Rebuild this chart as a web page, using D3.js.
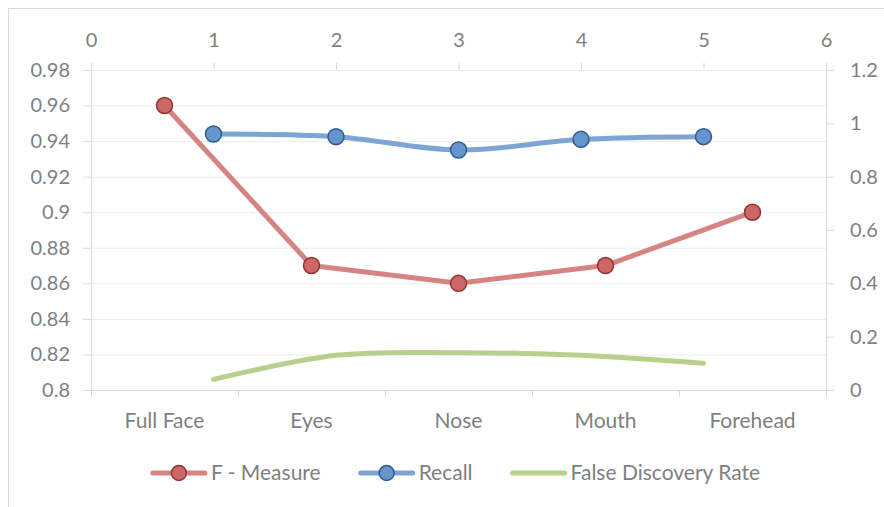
<!DOCTYPE html>
<html lang="en">
  <head>
    <meta charset="utf-8">
    <title>Face regions</title>
    <script src="https://d3js.org/d3.v7.min.js"></script>
    <style>
      body { margin: 0; background: #fff; }
      text { font-family: Lato, "Open Sans", sans-serif; fill: #7f7f7f; }
    </style>
  </head>
  <body>
    <div class="chart"></div>
  </body>
  <script type="text/javascript">
    // data
    const categories = ["Full Face", "Eyes", "Nose", "Mouth", "Forehead"];
    const fMeasure = [0.96, 0.87, 0.86, 0.87, 0.90];
    const recallX = [1, 2, 3, 4, 5];
    const recall = [0.96, 0.95, 0.90, 0.94, 0.95];
    const fdrX = [1, 2, 3, 4, 5];
    const fdr = [0.04, 0.13, 0.14, 0.13, 0.10];
    const leftTicks = [0.8, 0.82, 0.84, 0.86, 0.88, 0.9, 0.92, 0.94, 0.96, 0.98];
    const rightTicks = [0, 0.2, 0.4, 0.6, 0.8, 1, 1.2];
    const topTicks = [0, 1, 2, 3, 4, 5, 6];
    const seriesNames = ["F - Measure", "Recall", "False Discovery Rate"];

    const width = 884, height = 507;
    const plotLeft = 91, plotRight = 826, plotTop = 70, plotBottom = 390;

    const svg = d3.select('.chart')
        .append('svg')
        .attr('width', width)
        .attr('height', height);

    // chart frame
    svg.append('rect')
        .attr('x', 8.5).attr('y', 8.5)
        .attr('width', 900).attr('height', 520)
        .attr('fill', 'none')
        .attr('stroke', '#d9d9d9');

    const xBand = d3.scaleBand().domain(categories).range([plotLeft, plotRight]);
    const xEdge = d3.scaleLinear().domain([0, categories.length]).range([plotLeft, plotRight]);
    const xTop = d3.scaleLinear().domain([0, 6]).range([plotLeft, plotRight]);
    const yLeft = d3.scaleLinear().domain([0.8, 0.98]).range([plotBottom, plotTop]);
    const yRight = d3.scaleLinear().domain([0, 1.2]).range([plotBottom, plotTop]);

    // gridlines
    svg.append('g')
        .attr('class', 'grid')
        .attr('transform', `translate(${plotLeft},0)`)
        .call(d3.axisLeft(yLeft).tickValues(leftTicks).tickSize(-(plotRight - plotLeft)).tickFormat(''))
        .call(g => g.select('.domain').remove())
        .call(g => g.selectAll('line').attr('stroke', '#ececec'));

    // left axis
    svg.append('g')
        .attr('transform', `translate(${plotLeft},0)`)
        .call(d3.axisLeft(yLeft).tickValues(leftTicks).tickSize(8).tickPadding(13)
            .tickFormat(d => +d.toFixed(2)))
        .call(g => g.select('.domain').attr('stroke', '#d9d9d9'))
        .call(g => g.selectAll('line').attr('stroke', '#d9d9d9'))
        .call(g => g.selectAll('text').attr('font-size', 20).attr('fill', '#7f7f7f'));

    // right axis
    svg.append('g')
        .attr('transform', `translate(${plotRight},0)`)
        .call(d3.axisRight(yRight).tickValues(rightTicks).tickSize(8).tickPadding(16)
            .tickFormat(d => +d.toFixed(1)))
        .call(g => g.select('.domain').attr('stroke', '#d9d9d9'))
        .call(g => g.selectAll('line').attr('stroke', '#d9d9d9'))
        .call(g => g.selectAll('text').attr('font-size', 20).attr('fill', '#7f7f7f'));

    // top axis
    svg.append('g')
        .attr('transform', `translate(0,${plotTop})`)
        .call(d3.axisTop(xTop).tickValues(topTicks).tickSize(7).tickPadding(16).tickFormat(d3.format('d')))
        .call(g => g.select('.domain').remove())
        .call(g => g.selectAll('line').attr('stroke', '#d9d9d9'))
        .call(g => g.selectAll('text').attr('font-size', 20).attr('fill', '#7f7f7f'));

    // bottom axis: tick marks between categories, labels at centres
    svg.append('g')
        .attr('transform', `translate(0,${plotBottom})`)
        .call(d3.axisBottom(xEdge).tickValues(d3.range(categories.length + 1)).tickSize(7).tickFormat(''))
        .call(g => g.select('.domain').attr('stroke', '#d9d9d9'))
        .call(g => g.selectAll('line').attr('stroke', '#d9d9d9'));

    svg.append('g')
        .attr('transform', `translate(0,${plotBottom})`)
        .call(d3.axisBottom(xBand).tickSize(0).tickPadding(23))
        .call(g => g.select('.domain').remove())
        .call(g => g.selectAll('text').attr('font-size', 21).attr('fill', '#7f7f7f'));

    svg.selectAll('.tick text').attr('font-family', 'Lato, sans-serif');

    const smooth = d3.curveCatmullRom.alpha(0);

    // F - Measure on primary axes
    const redPts = categories.map((c, i) => [xBand(c) + xBand.bandwidth() / 2, yLeft(fMeasure[i])]);
    svg.append('path')
        .attr('d', d3.line()(redPts))
        .attr('fill', 'none')
        .attr('stroke', '#d58482')
        .attr('stroke-width', 5)
        .attr('stroke-linecap', 'round')
        .attr('stroke-linejoin', 'round');

    // Recall on secondary axes
    const bluePts = recallX.map((x, i) => [xTop(x), yRight(recall[i])]);
    svg.append('path')
        .attr('d', d3.line().curve(smooth)(bluePts))
        .attr('fill', 'none')
        .attr('stroke', '#7da5d4')
        .attr('stroke-width', 5)
        .attr('stroke-linecap', 'round');

    // False Discovery Rate on secondary axes
    const greenPts = fdrX.map((x, i) => [xTop(x), yRight(fdr[i])]);
    svg.append('path')
        .attr('d', d3.line().curve(smooth)(greenPts))
        .attr('fill', 'none')
        .attr('stroke', '#b9cf8c')
        .attr('stroke-width', 5)
        .attr('stroke-linecap', 'round');

    svg.selectAll('.red-dot')
        .data(redPts)
        .enter()
        .append('circle')
        .attr('cx', d => d[0])
        .attr('cy', d => d[1])
        .attr('r', 8)
        .attr('fill', '#cd6765')
        .attr('stroke', '#8f3634')
        .attr('stroke-width', 1.5);

    svg.selectAll('.blue-dot')
        .data(bluePts)
        .enter()
        .append('circle')
        .attr('cx', d => d[0])
        .attr('cy', d => d[1])
        .attr('r', 8)
        .attr('fill', '#6694cd')
        .attr('stroke', '#2d5c91')
        .attr('stroke-width', 1.5);

    // legend
    const legendColors = [
      {line: '#d58482', fill: '#cd6765', stroke: '#8f3634', marker: true},
      {line: '#7da5d4', fill: '#6694cd', stroke: '#2d5c91', marker: true},
      {line: '#b9cf8c', marker: false}
    ];
    const legend = svg.append('g');
    let lx = 0;
    seriesNames.forEach((name, i) => {
      const c = legendColors[i];
      const item = legend.append('g').attr('transform', `translate(${lx},0)`);
      item.append('line')
          .attr('x1', 2).attr('x2', 54)
          .attr('stroke', c.line).attr('stroke-width', 5).attr('stroke-linecap', 'round');
      if (c.marker) {
        item.append('circle')
            .attr('cx', 28).attr('r', 7.5)
            .attr('fill', c.fill).attr('stroke', c.stroke).attr('stroke-width', 1.5);
      }
      const t = item.append('text')
          .attr('x', 60).attr('dy', '0.35em')
          .attr('font-size', 21)
          .text(name);
      lx += 60 + t.node().getComputedTextLength() + 38;
    });
    lx -= 38;
    legend.attr('transform', `translate(${455.5 - lx / 2},473)`);
  </script>
</html>
